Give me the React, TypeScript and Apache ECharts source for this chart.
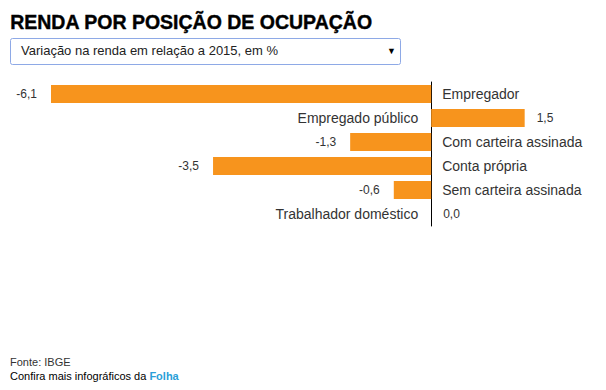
import React, { useEffect, useRef } from "react";
import * as echarts from "echarts";

const categories = [
  "Empregador",
  "Empregado público",
  "Com carteira assinada",
  "Conta própria",
  "Sem carteira assinada",
  "Trabalhador doméstico",
];
const values = [-6.1, 1.5, -1.3, -3.5, -0.6, 0.0];

const fmt = (v: number) => v.toFixed(1).replace(".", ",");

export default function App() {
  const ref = useRef<HTMLDivElement>(null);
  useEffect(() => {
    document.body.style.margin = "0";
    const chart = echarts.init(ref.current!, null, { renderer: "svg" });
    const font = "Liberation Sans, Arial, sans-serif";
    chart.setOption({
      animation: false,
      backgroundColor: "#ffffff",
      grid: { left: 51, top: 82, width: 536, height: 144, containLabel: false },
      xAxis: {
        type: "value",
        min: -6.1,
        max: 2.5,
        show: false,
      },
      yAxis: {
        type: "category",
        data: categories,
        inverse: true,
        axisLine: { show: true, onZero: true, lineStyle: { color: "#000", width: 1 } },
        axisTick: { show: false },
        axisLabel: { show: false },
      },
      series: [
        {
          type: "bar",
          barWidth: 18,
          itemStyle: { color: "#f7941d" },
          data: values.map((v) => ({
            value: v,
            label: {
              show: true,
              position: v < 0 ? "left" : "right",
              distance: v < 0 ? 14 : 12,
              formatter: () => fmt(v),
              fontFamily: font,
              fontSize: 12,
              color: "#333",
            },
          })),
          z: 1,
        },
        {
          type: "bar",
          barWidth: 18,
          barGap: "-100%",
          itemStyle: { color: "transparent" },
          silent: true,
          data: values.map((v, i) => ({
            value: 0,
            label: {
              show: true,
              position: v < 0 ? "right" : "left",
              distance: v < 0 ? 11 : 13,
              formatter: () => categories[i],
              fontFamily: font,
              fontSize: 14,
              color: "#333",
            },
          })),
        },
      ],
      graphic: [
        {
          type: "text",
          left: 10,
          top: 12,
          style: {
            text: "RENDA POR POSIÇÃO DE OCUPAÇÃO",
            font: `bold 19.5px ${font}`,
            fill: "#000",
            stroke: "#000",
            lineWidth: 0.4,
          },
        },
        {
          type: "rect",
          shape: { x: 10.5, y: 38.5, width: 390, height: 26, r: 2 },
          style: { fill: "#fff", stroke: "#8ea9e6", lineWidth: 1 },
        },
        {
          type: "text",
          left: 21,
          top: 44,
          style: {
            text: "Variação na renda em relação a 2015, em %",
            font: `13px ${font}`,
            fill: "#222",
          },
        },
        {
          type: "text",
          left: 387,
          top: 46,
          style: { text: "▼", font: `9px ${font}`, fill: "#000" },
        },
        {
          type: "text",
          left: 10,
          top: 356,
          style: { text: "Fonte: IBGE", font: `11px ${font}`, fill: "#333" },
        },
        {
          type: "text",
          left: 10,
          top: 370,
          style: {
            text: "{a|Confira mais infográficos da }{b|Folha}",
            rich: {
              a: { font: `11px ${font}`, fill: "#000" },
              b: { font: `bold 11px ${font}`, fill: "#2b9fd8" },
            },
          },
        },
      ],
    });
    return () => chart.dispose();
  }, []);
  return <div ref={ref} style={{ width: 606, height: 390 }} />;
}
